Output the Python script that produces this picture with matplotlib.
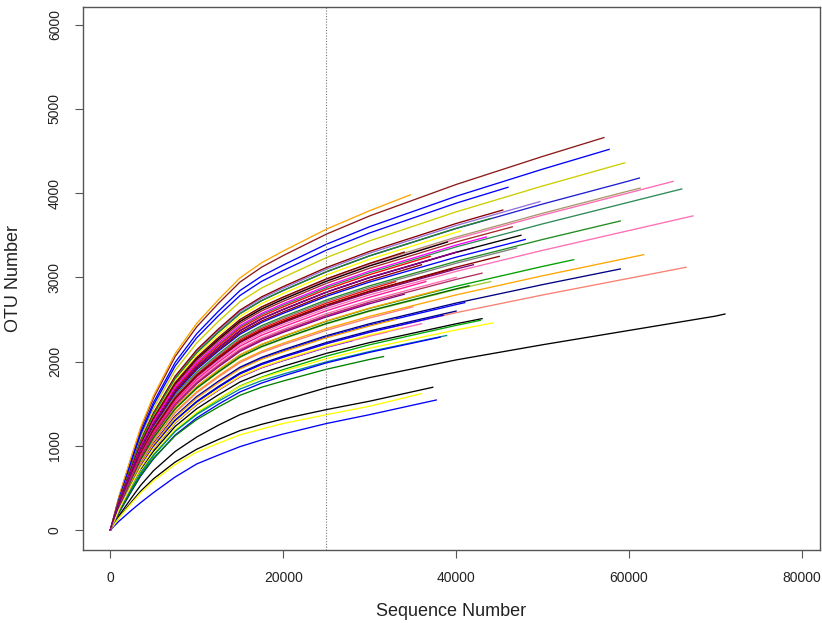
import matplotlib
matplotlib.use("Agg")
import matplotlib.pyplot as plt

plt.rcParams['font.family'] = ['Liberation Sans', 'DejaVu Sans']

grid_seq = [0, 1000, 2500, 3500, 5000, 7500, 10000, 12500, 15000, 17500,
            20000, 25000, 30000, 40000, 50000, 60000, 70000]

# final sampling depth of each sample
curve_depth = [57100, 57700, 59500, 61200, 65100, 66100, 61300, 67400, 59000,
               48000, 61700, 53600, 59000, 66600, 71100, 34700, 46000, 49700,
               45400, 43000, 42800, 44300, 38900, 38150, 37300, 37700, 31600,
               36000, 40000, 38000, 42000, 36000, 40500, 44000, 41000, 35000,
               33000, 39000, 46500, 44000, 32000, 30000, 34000, 42000, 28000,
               47000, 40000, 36000, 33000,
               37000, 43500, 39500, 45000, 41500, 36500, 34000, 43000, 38500,
               47500, 33500, 40000]

# OTU number at each grid depth below the sample depth, last value = at the final depth
curve_otus = [
    [0, 393, 883, 1197, 1570, 2061, 2414, 2691, 2945, 3121, 3259, 3514, 3730, 4103, 4436, 4660],
    [0, 379, 853, 1157, 1517, 1991, 2332, 2598, 2844, 3015, 3147, 3394, 3602, 3963, 4285, 4520],
    [0, 362, 813, 1103, 1445, 1897, 2222, 2477, 2711, 2874, 3000, 3235, 3434, 3778, 4085, 4360],
    [0, 343, 771, 1045, 1370, 1798, 2106, 2348, 2570, 2724, 2844, 3066, 3255, 3580, 3871, 4145, 4180],
    [0, 331, 745, 1009, 1323, 1737, 2035, 2268, 2482, 2631, 2746, 2962, 3144, 3458, 3739, 4004, 4140],
    [0, 322, 724, 981, 1286, 1688, 1978, 2205, 2413, 2558, 2670, 2879, 3056, 3362, 3635, 3893, 4050],
    [0, 333, 749, 1015, 1331, 1747, 2047, 2281, 2496, 2646, 2762, 2979, 3162, 3478, 3761, 4027, 4060],
    [0, 294, 661, 896, 1175, 1543, 1808, 2014, 2204, 2337, 2439, 2630, 2792, 3071, 3321, 3556, 3730],
    [0, 305, 687, 931, 1220, 1603, 1877, 2092, 2290, 2427, 2534, 2732, 2900, 3190, 3450, 3670],
    [0, 310, 698, 946, 1240, 1627, 1906, 2125, 2325, 2465, 2573, 2775, 2945, 3240, 3450],
    [0, 267, 601, 815, 1068, 1403, 1643, 1831, 2004, 2124, 2218, 2391, 2538, 2792, 3019, 3233, 3270],
    [0, 277, 623, 845, 1107, 1454, 1703, 1898, 2078, 2202, 2299, 2479, 2632, 2895, 3130, 3210],
    [0, 258, 580, 787, 1031, 1354, 1586, 1767, 1934, 2050, 2141, 2308, 2450, 2695, 2914, 3100],
    [0, 247, 556, 753, 987, 1297, 1519, 1693, 1853, 1964, 2050, 2211, 2347, 2581, 2791, 2989, 3120],
    [0, 170, 390, 530, 705, 933, 1105, 1245, 1370, 1460, 1540, 1690, 1810, 2020, 2200, 2370, 2540, 2565],
    [0, 399, 898, 1218, 1597, 2096, 2455, 2735, 2994, 3174, 3313, 3573, 3792, 3980],
    [0, 371, 836, 1133, 1485, 1949, 2284, 2545, 2785, 2953, 3082, 3324, 3528, 3881, 4070],
    [0, 346, 779, 1056, 1383, 1817, 2128, 2371, 2596, 2751, 2872, 3097, 3288, 3616, 3900],
    [0, 348, 784, 1062, 1393, 1828, 2141, 2387, 2612, 2769, 2891, 3117, 3309, 3640, 3800],
    [0, 234, 527, 715, 937, 1231, 1441, 1606, 1758, 1863, 1945, 2098, 2226, 2449, 2510],
    [0, 215, 490, 670, 885, 1176, 1386, 1553, 1710, 1815, 1905, 2065, 2200, 2430, 2490],
    [0, 227, 512, 694, 909, 1194, 1398, 1558, 1705, 1808, 1887, 2035, 2160, 2376, 2460],
    [0, 223, 502, 681, 892, 1171, 1372, 1529, 1674, 1774, 1852, 1997, 2120, 2310],
    [0, 205, 470, 640, 847, 1128, 1332, 1494, 1640, 1745, 1830, 1985, 2110, 2290],
    [0, 150, 340, 460, 609, 807, 960, 1075, 1180, 1255, 1320, 1430, 1530, 1695],
    [0, 105, 240, 325, 445, 630, 785, 890, 990, 1070, 1140, 1265, 1370, 1544],
    [0, 213, 480, 651, 853, 1120, 1312, 1461, 1600, 1696, 1770, 1909, 2026, 2060],
    [0, 145, 325, 440, 585, 778, 925, 1030, 1130, 1200, 1265, 1370, 1470, 1620],
    [0, 287, 646, 876, 1148, 1507, 1766, 1967, 2153, 2282, 2383, 2570, 2727, 3000],
    [0, 278, 624, 846, 1110, 1457, 1706, 1902, 2081, 2206, 2303, 2484, 2636, 2850],
    [0, 315, 710, 962, 1261, 1655, 1939, 2161, 2366, 2507, 2618, 2823, 2996, 3296, 3350],
    [0, 312, 702, 952, 1248, 1639, 1920, 2140, 2342, 2482, 2591, 2794, 2966, 3150],
    [0, 338, 761, 1032, 1353, 1776, 2081, 2319, 2538, 2690, 2809, 3029, 3215, 3536, 3550],
    [0, 343, 772, 1046, 1371, 1800, 2108, 2350, 2572, 2726, 2846, 3069, 3258, 3583, 3700],
    [0, 256, 576, 781, 1024, 1344, 1575, 1756, 1921, 2037, 2126, 2293, 2434, 2677, 2700],
    [0, 265, 596, 808, 1060, 1391, 1630, 1816, 1988, 2107, 2200, 2372, 2518, 2650],
    [0, 301, 677, 918, 1203, 1580, 1850, 2063, 2258, 2393, 2498, 2694, 2860, 2950],
    [0, 330, 743, 1007, 1319, 1733, 2030, 2262, 2476, 2624, 2740, 2954, 3136, 3420],
    [0, 327, 736, 998, 1309, 1718, 2013, 2243, 2455, 2602, 2716, 2929, 3109, 3420, 3600],
    [0, 273, 615, 834, 1093, 1435, 1681, 1873, 2050, 2174, 2269, 2447, 2597, 2857, 2950],
    [0, 242, 545, 739, 969, 1271, 1489, 1660, 1817, 1926, 2011, 2168, 2302, 2350],
    [0, 284, 639, 867, 1137, 1492, 1747, 1947, 2132, 2259, 2359, 2544, 2700],
    [0, 333, 750, 1017, 1333, 1750, 2050, 2284, 2500, 2650, 2767, 2983, 3167, 3300],
    [0, 297, 667, 905, 1186, 1557, 1824, 2032, 2225, 2358, 2462, 2655, 2818, 3099, 3150],
    [0, 242, 546, 740, 969, 1272, 1491, 1661, 1819, 1928, 2013, 2170, 2250],
    [0, 303, 682, 925, 1212, 1591, 1864, 2078, 2274, 2410, 2517, 2714, 2880, 3168, 3350],
    [0, 249, 560, 759, 995, 1306, 1529, 1705, 1866, 1978, 2065, 2227, 2364, 2600],
    [0, 243, 546, 741, 971, 1274, 1493, 1663, 1821, 1930, 2015, 2173, 2307, 2450],
    [0, 255, 574, 778, 1020, 1339, 1568, 1748, 1913, 2028, 2117, 2283, 2423, 2500],
    [0, 319, 718, 974, 1277, 1676, 1964, 2188, 2395, 2538, 2650, 2858, 3033, 3250],
    [0, 324, 728, 987, 1295, 1699, 1990, 2219, 2428, 2573, 2687, 2897, 3075, 3383, 3480],
    [0, 298, 671, 909, 1192, 1565, 1833, 2043, 2236, 2370, 2474, 2668, 2832, 3100],
    [0, 299, 672, 911, 1195, 1568, 1837, 2047, 2240, 2375, 2479, 2673, 2838, 3121, 3250],
    [0, 274, 617, 836, 1096, 1439, 1686, 1878, 2056, 2179, 2275, 2453, 2604, 2864, 2900],
    [0, 291, 655, 887, 1163, 1527, 1789, 1994, 2182, 2313, 2414, 2604, 2764, 2950],
    [0, 283, 636, 863, 1131, 1484, 1739, 1937, 2121, 2248, 2347, 2531, 2687, 2800],
    [0, 285, 641, 869, 1139, 1495, 1751, 1951, 2136, 2264, 2364, 2549, 2706, 2976, 3050],
    [0, 247, 556, 754, 989, 1298, 1521, 1695, 1855, 1966, 2053, 2213, 2349, 2550],
    [0, 316, 710, 963, 1262, 1656, 1940, 2162, 2367, 2509, 2619, 2825, 2998, 3298, 3500],
    [0, 244, 548, 743, 975, 1279, 1498, 1670, 1828, 1937, 2023, 2181, 2315, 2400],
    [0, 316, 711, 963, 1262, 1657, 1942, 2164, 2369, 2511, 2621, 2826, 3000, 3300],
]

curve_colors = ['#8B1A1A', 'blue', '#CDCD00', '#2020D0', '#FF69B4', '#2E8B57',
                '#A89870', '#FF6EB4', '#228B22', 'blue', 'orange', '#00A000',
                '#000080', '#FA8072', 'black', 'orange', 'blue', '#9370DB',
                '#8B0000', 'black', '#00AA00', 'yellow', '#008B8B', 'blue',
                'black', 'blue', 'green', 'yellow', 'hotpink', 'orange',
                'magenta', '#8B0000', 'yellow', '#228B22', 'blue', 'salmon',
                'red', 'black', '#A52A2A', '#9ACD32', '#FF82AB', 'magenta',
                '#800000', 'purple', 'blue', 'gray', 'navy', 'hotpink', 'orange',
                'red', 'magenta', '#8B0000', '#8B0000', '#006400', '#FF1493',
                'purple', '#B03060', 'blue', 'black', 'yellow', '#8B008B']

cut_depth = 25000

fig = plt.figure(figsize=(8.22, 6.23), dpi=100)
ax = fig.add_axes([0.1006, 0.1172, 0.8970, 0.8716])

for depth, otus, col in zip(curve_depth, curve_otus, curve_colors):
    xs = [g for g in grid_seq if g < depth] + [depth]
    assert len(xs) == len(otus), (depth, len(xs), len(otus))
    ax.plot(xs, otus, color=col, lw=0.95, solid_joinstyle='round')

ax.axvline(cut_depth, color='#777777', lw=0.8, linestyle=(0, (1, 1.5)))

ax.set_xlim(-3200, 82100)
ax.set_ylim(-237, 6211)
ax.set_xticks([0, 20000, 40000, 60000, 80000])
ax.set_yticks(range(0, 7000, 1000))
ax.set_yticklabels([str(v) for v in range(0, 7000, 1000)], rotation=90, va='center')

ax.tick_params(direction='out', length=6, width=0.8, color='#555555',
               labelsize=10, labelcolor='#222222')
ax.tick_params(axis='x', pad=9)
ax.tick_params(axis='y', pad=9)
for sp in ax.spines.values():
    sp.set_color('#555555')
    sp.set_linewidth(1.0)

ax.set_xlabel('Sequence Number', fontsize=13, color='#222222')
ax.set_ylabel('OTU Number', fontsize=13, color='#222222')
ax.xaxis.set_label_coords(0.5, -0.097)
ax.yaxis.set_label_coords(-0.082, 0.5)

fig.savefig('out.png', dpi=100)
